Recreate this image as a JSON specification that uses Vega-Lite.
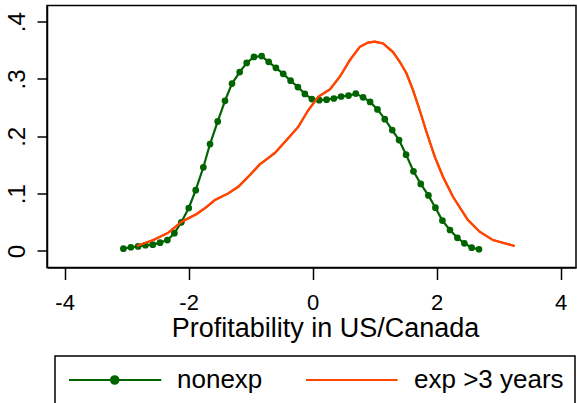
{
  "$schema": "https://vega.github.io/schema/vega-lite/v6.json",
  "autosize": "none",
  "width": 529,
  "height": 262,
  "padding": {"left": 47, "top": 5.5, "right": 1, "bottom": 135.5},
  "background": "white",
  "config": {
    "font": "Liberation Sans",
    "view": {"stroke": "black", "strokeWidth": 1.5},
    "axis": {"grid": false, "domainColor": "black", "domainWidth": 1.5, "tickColor": "black", "tickWidth": 1.5, "labelColor": "black", "titleColor": "black", "labelFont": "Liberation Sans", "titleFont": "Liberation Sans"}
  },
  "datasets": {
    "dens": [
      {"g": "nonexp", "x": -3.052, "d": 0.004},
      {"g": "nonexp", "x": -2.932, "d": 0.0065},
      {"g": "nonexp", "x": -2.815, "d": 0.008},
      {"g": "nonexp", "x": -2.697, "d": 0.010},
      {"g": "nonexp", "x": -2.578, "d": 0.011},
      {"g": "nonexp", "x": -2.461, "d": 0.0145},
      {"g": "nonexp", "x": -2.343, "d": 0.019},
      {"g": "nonexp", "x": -2.230, "d": 0.031},
      {"g": "nonexp", "x": -2.118, "d": 0.050},
      {"g": "nonexp", "x": -1.998, "d": 0.075},
      {"g": "nonexp", "x": -1.886, "d": 0.106},
      {"g": "nonexp", "x": -1.763, "d": 0.146},
      {"g": "nonexp", "x": -1.655, "d": 0.1865},
      {"g": "nonexp", "x": -1.531, "d": 0.226},
      {"g": "nonexp", "x": -1.414, "d": 0.262},
      {"g": "nonexp", "x": -1.301, "d": 0.292},
      {"g": "nonexp", "x": -1.177, "d": 0.312},
      {"g": "nonexp", "x": -1.064, "d": 0.328},
      {"g": "nonexp", "x": -0.947, "d": 0.3385},
      {"g": "nonexp", "x": -0.823, "d": 0.340},
      {"g": "nonexp", "x": -0.710, "d": 0.330},
      {"g": "nonexp", "x": -0.593, "d": 0.3195},
      {"g": "nonexp", "x": -0.475, "d": 0.309},
      {"g": "nonexp", "x": -0.356, "d": 0.297},
      {"g": "nonexp", "x": -0.238, "d": 0.286},
      {"g": "nonexp", "x": -0.126, "d": 0.274},
      {"g": "nonexp", "x": -0.013, "d": 0.265},
      {"g": "nonexp", "x": 0.105, "d": 0.263},
      {"g": "nonexp", "x": 0.224, "d": 0.264},
      {"g": "nonexp", "x": 0.341, "d": 0.266},
      {"g": "nonexp", "x": 0.459, "d": 0.2695},
      {"g": "nonexp", "x": 0.578, "d": 0.271},
      {"g": "nonexp", "x": 0.696, "d": 0.2745},
      {"g": "nonexp", "x": 0.813, "d": 0.268},
      {"g": "nonexp", "x": 0.926, "d": 0.260},
      {"g": "nonexp", "x": 1.045, "d": 0.247},
      {"g": "nonexp", "x": 1.163, "d": 0.230},
      {"g": "nonexp", "x": 1.283, "d": 0.211},
      {"g": "nonexp", "x": 1.393, "d": 0.1935},
      {"g": "nonexp", "x": 1.506, "d": 0.168},
      {"g": "nonexp", "x": 1.625, "d": 0.139},
      {"g": "nonexp", "x": 1.742, "d": 0.117},
      {"g": "nonexp", "x": 1.866, "d": 0.097},
      {"g": "nonexp", "x": 1.979, "d": 0.0755},
      {"g": "nonexp", "x": 2.092, "d": 0.053},
      {"g": "nonexp", "x": 2.214, "d": 0.0366},
      {"g": "nonexp", "x": 2.333, "d": 0.023},
      {"g": "nonexp", "x": 2.446, "d": 0.0134},
      {"g": "nonexp", "x": 2.564, "d": 0.0057},
      {"g": "nonexp", "x": 2.681, "d": 0.003},
      {"g": "exp >3 years", "x": -2.836, "d": 0.0087},
      {"g": "exp >3 years", "x": -2.568, "d": 0.019},
      {"g": "exp >3 years", "x": -2.327, "d": 0.032},
      {"g": "exp >3 years", "x": -2.111, "d": 0.051},
      {"g": "exp >3 years", "x": -1.870, "d": 0.0645},
      {"g": "exp >3 years", "x": -1.709, "d": 0.077},
      {"g": "exp >3 years", "x": -1.575, "d": 0.089},
      {"g": "exp >3 years", "x": -1.361, "d": 0.1005},
      {"g": "exp >3 years", "x": -1.200, "d": 0.112},
      {"g": "exp >3 years", "x": -1.011, "d": 0.1325},
      {"g": "exp >3 years", "x": -0.850, "d": 0.1515},
      {"g": "exp >3 years", "x": -0.797, "d": 0.1555},
      {"g": "exp >3 years", "x": -0.609, "d": 0.171},
      {"g": "exp >3 years", "x": -0.420, "d": 0.1935},
      {"g": "exp >3 years", "x": -0.233, "d": 0.2165},
      {"g": "exp >3 years", "x": -0.072, "d": 0.2455},
      {"g": "exp >3 years", "x": 0.089, "d": 0.269},
      {"g": "exp >3 years", "x": 0.277, "d": 0.282},
      {"g": "exp >3 years", "x": 0.438, "d": 0.304},
      {"g": "exp >3 years", "x": 0.599, "d": 0.333},
      {"g": "exp >3 years", "x": 0.760, "d": 0.356},
      {"g": "exp >3 years", "x": 0.894, "d": 0.3635},
      {"g": "exp >3 years", "x": 1.002, "d": 0.365},
      {"g": "exp >3 years", "x": 1.135, "d": 0.362},
      {"g": "exp >3 years", "x": 1.296, "d": 0.347},
      {"g": "exp >3 years", "x": 1.404, "d": 0.330},
      {"g": "exp >3 years", "x": 1.512, "d": 0.310},
      {"g": "exp >3 years", "x": 1.618, "d": 0.2805},
      {"g": "exp >3 years", "x": 1.726, "d": 0.2455},
      {"g": "exp >3 years", "x": 1.834, "d": 0.208},
      {"g": "exp >3 years", "x": 1.968, "d": 0.1645},
      {"g": "exp >3 years", "x": 2.101, "d": 0.1295},
      {"g": "exp >3 years", "x": 2.262, "d": 0.0946},
      {"g": "exp >3 years", "x": 2.504, "d": 0.054},
      {"g": "exp >3 years", "x": 2.692, "d": 0.0336},
      {"g": "exp >3 years", "x": 2.907, "d": 0.019},
      {"g": "exp >3 years", "x": 3.095, "d": 0.0134},
      {"g": "exp >3 years", "x": 3.256, "d": 0.0087}
    ]
  },
  "data": {"name": "dens"},
  "encoding": {
    "x": {
      "field": "x", "type": "quantitative",
      "scale": {"domain": [-4.284, 4.246], "nice": false, "zero": false},
      "axis": {
        "values": [-4, -2, 0, 2, 4],
        "tickSize": 12,
        "labelFontSize": 22,
        "labelPadding": 13,
        "labelBaseline": "top",
        "labelExpr": "'' + datum.value",
        "title": "Profitability in US/Canada",
        "titleFontSize": 27,
        "titleFontWeight": "normal",
        "titleBaseline": "top",
        "titleAlign": "center",
        "titleAnchor": "start",
        "titleX": 278,
        "titleY": 48
      }
    },
    "y": {
      "field": "d", "type": "quantitative",
      "scale": {"domain": [-0.0288, 0.4282], "nice": false, "zero": false},
      "axis": {
        "values": [0, 0.1, 0.2, 0.3, 0.4],
        "tickSize": 10,
        "labelFontSize": 24,
        "labelAngle": 270,
        "labelAlign": "center",
        "labelBaseline": "alphabetic",
        "labelPadding": 13,
        "labelExpr": "datum.value == 0 ? '0' : replace(format(datum.value, '.1f'), '0.', '.')",
        "title": null
      }
    }
  },
  "layer": [
    {
      "mark": {"type": "line", "strokeWidth": 2.2},
      "encoding": {
        "color": {
          "field": "g", "type": "nominal",
          "scale": {"domain": ["nonexp", "exp >3 years"], "range": ["#006400", "#ff4500"]},
          "legend": {
            "orient": "none",
            "legendX": 8,
            "legendY": 350.5,
            "direction": "horizontal",
            "title": null,
            "strokeColor": "black",
            "padding": 11,
            "symbolSize": 400,
            "symbolStrokeWidth": 2.2,
            "labelFontSize": 26,
            "labelColor": "black",
            "labelFont": "Liberation Sans",
            "labelOffset": 85,
            "labelLimit": 400,
            "columnPadding": 38,
            "encode": {
              "legend": {"update": {"strokeWidth": {"value": 1.5}}},
              "symbols": {
                "update": {
                  "shape": {"signal": "datum.label == 'nonexp' ? 'M-1,0H8.23M3.94,0A0.37,0.37 0 1,1 3.2,0A0.37,0.37 0 1,1 3.94,0Z' : 'M-1,0H8.16'"},
                  "fill": {"signal": "datum.label == 'nonexp' ? '#006400' : 'transparent'"}
                }
              }
            }
          }
        },
        "order": {"field": "x", "type": "quantitative"}
      }
    },
    {
      "transform": [{"filter": "datum.g == 'nonexp'"}],
      "mark": {"type": "point", "filled": true, "size": 45, "color": "#006400", "opacity": 1}
    },
    {
      "transform": [{"filter": "datum.g == 'exp >3 years'"}],
      "mark": {"type": "line", "strokeWidth": 2.2, "color": "#ff4500"},
      "encoding": {"order": {"field": "x", "type": "quantitative"}}
    }
  ]
}
